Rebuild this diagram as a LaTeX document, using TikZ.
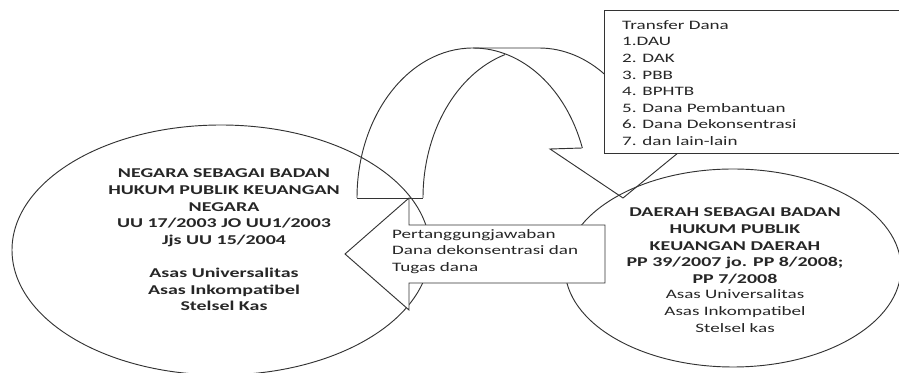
\documentclass[tikz,border=0pt]{standalone}
\usepackage{fontspec}
\setmainfont{Carlito}[FakeStretch=1.48]
\begin{document}
\begin{tikzpicture}[x=0.03cm,y=0.03cm]

	\tikzset{outline/.style={line width=0.8pt, black!80},
		plaintext/.style={font=\fontsize{11}{14.2}\selectfont, inner sep=0pt, text=black!85},
		boldtext/.style={font=\fontsize{11.5}{14.2}\selectfont\bfseries, inner sep=0pt, text=black!85, align=center}}

	\useasboundingbox (0,0) rectangle (899,373);
	\clip (0,0) rectangle (899,373);

	% curved arrow over the top
	\draw[outline] (357,175) -- (423,175);
	\draw[outline] (357,175) arc[start angle=180, end angle=19.5, x radius=116, y radius=150];
	\draw[outline] (423,175) arc[start angle=180, end angle=107, x radius=116, y radius=150];
	\draw[outline] (473,325) -- (539,325) arc[start angle=90, end angle=19.5, x radius=116, y radius=150]
		-- (684,225) -- (623,175) -- (550,224) -- (582,225);

	% the two bodies
	\draw[outline] (221,123) ellipse[x radius=209, y radius=125];
	\draw[outline] (733,105) ellipse[x radius=168, y radius=99];

	\node[boldtext] (negara) at (224,133) {NEGARA SEBAGAI BADAN\\HUKUM PUBLIK KEUANGAN\\NEGARA\\UU 17/2003 JO UU1/2003\\Jjs UU 15/2004\\[14.2pt]Asas Universalitas\\Asas Inkompatibel\\Stelsel Kas};

	\node[boldtext] (daerah) at (735,127) {DAERAH SEBAGAI BADAN\\HUKUM PUBLIK\\KEUANGAN DAERAH\\PP 39/2007 jo. PP 8/2008;\\PP 7/2008};
	\node[plaintext, align=center] (asasdaerah) at (735,62) {Asas Universalitas\\Asas Inkompatibel\\Stelsel kas};

	% arrow back to the left
	\draw[outline, fill=white] (605,148) -- (409,148) -- (409,175) -- (345,119) -- (409,63) -- (409,90) -- (605,90) -- cycle;
	\node[plaintext, align=left, anchor=west] (tanggung) at (392,121.5) {Pertanggungjawaban\\Dana dekonsentrasi dan\\Tugas dana};

	% transfer box
	\draw[outline, fill=white] (604,220) rectangle (915,363);
	\node[plaintext, align=left, anchor=west] (transfer) at (622,290) {Transfer Dana\\1.DAU\\2. DAK\\3. PBB\\4. BPHTB\\5. Dana Pembantuan\\6. Dana Dekonsentrasi\\7. dan lain-lain};

\end{tikzpicture}
\end{document}
